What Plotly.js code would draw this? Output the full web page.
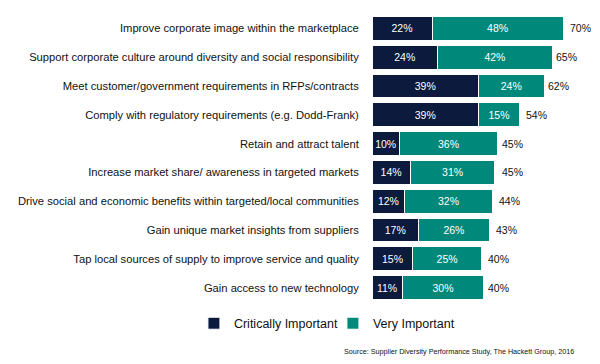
<!DOCTYPE html>
<html>
<head>
<meta charset="utf-8">
<script src="https://cdn.plot.ly/plotly-3.0.1.min.js"></script>
<style>body{margin:0;padding:0;background:#fff}#chart{width:600px;height:364px}</style>
</head>
<body>
<div id="chart"></div>
<script>
const categories = [
  "Improve corporate image within the marketplace",
  "Support corporate culture around diversity and social responsibility",
  "Meet customer/government requirements in RFPs/contracts",
  "Comply with regulatory requirements (e.g. Dodd-Frank)",
  "Retain and attract talent",
  "Increase market share/ awareness in targeted markets",
  "Drive social and economic benefits within targeted/local communities",
  "Gain unique market insights from suppliers",
  "Tap local sources of supply to improve service and quality",
  "Gain access to new technology"
];
const critical = [22, 24, 39, 39, 10, 14, 12, 17, 15, 11];
const very = [48, 42, 24, 15, 36, 31, 32, 26, 25, 30];
const totals = [70, 65, 62, 54, 45, 45, 44, 43, 40, 40];

const FONT = "Liberation Sans, Arial, sans-serif";
const NAVY = "#0b1a3d";
const TEAL = "#00897b";

const traces = [
  {
    type: "bar", orientation: "h", name: "Critically Important",
    y: categories, x: critical,
    text: critical.map(v => v + "%"), textposition: "inside", insidetextanchor: "middle",
    textfont: {color: "#ffffff", size: 10.5, family: FONT},
    marker: {color: NAVY, line: {color: "#ffffff", width: 1}},
    hoverinfo: "none"
  },
  {
    type: "bar", orientation: "h", name: "Very Important",
    y: categories, x: very,
    text: very.map(v => v + "%"), textposition: "inside", insidetextanchor: "middle",
    textfont: {color: "#ffffff", size: 10.5, family: FONT},
    marker: {color: TEAL, line: {color: "#ffffff", width: 1}},
    hoverinfo: "none"
  }
];

const annotations = categories.map((c, i) => ({
  x: totals[i], y: c, xref: "x", yref: "y",
  text: totals[i] + "%", showarrow: false, xanchor: "left", xshift: 5,
  font: {size: 10.5, color: "#111111", family: FONT}
}));
annotations.push({
  xref: "paper", yref: "paper", x: 0.895, y: -0.171,
  xanchor: "right", yanchor: "middle", showarrow: false,
  text: "Source: Supplier Diversity Performance Study, The Hackett Group, 2016",
  font: {size: 7.2, color: "#111111", family: FONT}
});

const layout = {
  width: 600, height: 364,
  margin: {l: 372, r: 0, t: 13.5, b: 61.5},
  barmode: "stack", bargap: 0.17,
  paper_bgcolor: "#ffffff", plot_bgcolor: "#ffffff",
  font: {family: FONT, color: "#111111"},
  xaxis: {range: [0, 83.5], visible: false, fixedrange: true},
  yaxis: {
    autorange: "reversed", showgrid: false, zeroline: false, showline: false,
    ticks: "outside", ticklen: 10, tickcolor: "rgba(0,0,0,0)",
    tickfont: {size: 11.2, color: "#111111", family: FONT}
  },
  showlegend: true,
  legend: {
    orientation: "h", traceorder: "normal", xref: "paper", yref: "paper",
    x: -0.781, y: -0.075, xanchor: "left", yanchor: "middle",
    font: {size: 12.5, color: "#111111", family: FONT},
    entrywidth: 94, entrywidthmode: "pixels",
    itemwidth: 30, tracegroupgap: 0
  },
  annotations: annotations
};

Plotly.newPlot("chart", traces, layout, {displayModeBar: false, staticPlot: true});
</script>
</body>
</html>
